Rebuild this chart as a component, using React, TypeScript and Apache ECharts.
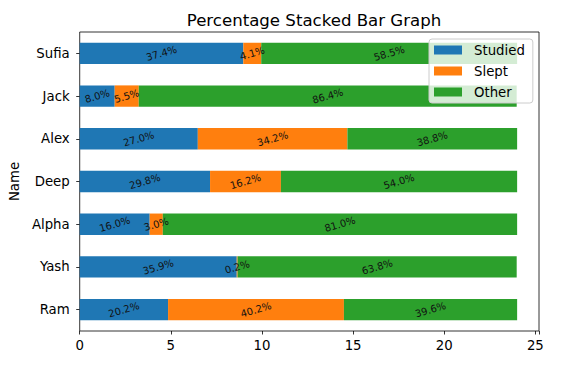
import React, { useEffect, useRef } from "react";
import * as echarts from "echarts";

const names = ["Ram", "Yash", "Alpha", "Deep", "Alex", "Jack", "Sufia"];
const studiedPct = [20.2, 35.9, 16.0, 29.8, 27.0, 8.0, 37.4];
const sleptPct = [40.2, 0.2, 3.0, 16.2, 34.2, 5.5, 4.1];
const otherPct = [39.6, 63.8, 81.0, 54.0, 38.8, 86.4, 58.5];
const HOURS_PER_DAY = 24;
const xTicks = [0, 5, 10, 15, 20, 25];

const FONT = "DejaVu Sans";

function makeSeries(name: string, pct: number[], color: string) {
  return {
    name,
    type: "bar",
    stack: "total",
    barWidth: "50%",
    itemStyle: { color },
    data: pct.map((p) => (p / 100) * HOURS_PER_DAY),
    label: {
      show: true,
      position: "inside",
      rotate: 16,
      fontFamily: FONT,
      fontSize: 10,
      color: "#111",
      formatter: (params: any) => `${pct[params.dataIndex].toFixed(1)}%`,
    },
    emphasis: { disabled: true },
  };
}

export default function App() {
  const ref = useRef<HTMLDivElement>(null);
  useEffect(() => {
    if (!ref.current) return;
    const chart = echarts.init(ref.current, undefined, { renderer: "svg" });
    chart.setOption({
      animation: false,
      textStyle: { fontFamily: FONT },
      title: {
        text: "Percentage Stacked Bar Graph",
        left: 309,
        textAlign: "center",
        top: 7,
        textStyle: { fontFamily: FONT, fontSize: 16.6, fontWeight: "normal", color: "#000" },
      },
      legend: {
        data: ["Studied", "Slept", "Other"],
        orient: "vertical",
        left: 429,
        top: 39,
        padding: [4, 8, 4, 5],
        itemWidth: 28,
        itemHeight: 9,
        itemGap: 7,
        icon: "rect",
        backgroundColor: "rgba(255,255,255,0.8)",
        borderColor: "#cccccc",
        borderWidth: 1,
        borderRadius: 3,
        textStyle: {
          fontFamily: FONT,
          fontSize: 13.3,
          lineHeight: 14,
          color: "#000",
          padding: [0, 0, 0, 7],
        },
      },
      grid: {
        left: 79,
        right: 23,
        top: 32,
        bottom: 40,
        show: true,
        borderColor: "#000",
        borderWidth: 0.8,
        backgroundColor: "transparent",
      },
      xAxis: {
        type: "value",
        min: 0,
        max: 25.2,
        interval: 5,
        axisLine: { show: false },
        axisTick: { show: true, length: 3.5, lineStyle: { color: "#000", width: 0.8 } },
        splitLine: { show: false },
        axisLabel: {
          fontFamily: FONT,
          fontSize: 13.3,
          color: "#000",
          margin: 8,
          formatter: (v: number) => (xTicks.includes(v) ? String(v) : ""),
        },
      },
      yAxis: {
        type: "category",
        data: names,
        name: "Name",
        nameLocation: "middle",
        nameRotate: 90,
        nameGap: 58,
        nameTextStyle: { fontFamily: FONT, fontSize: 13.3, color: "#000" },
        axisLine: { show: false },
        axisTick: { show: true, alignWithLabel: true, length: 3.5, lineStyle: { color: "#000", width: 0.8 } },
        axisLabel: { fontFamily: FONT, fontSize: 13.3, color: "#000", margin: 10 },
        splitLine: { show: false },
      },
      series: [
        makeSeries("Studied", studiedPct, "#1f77b4"),
        makeSeries("Slept", sleptPct, "#ff7f0e"),
        makeSeries("Other", otherPct, "#2ca02c"),
      ],
    });
    return () => chart.dispose();
  }, []);
  return (
    <div
      ref={ref}
      style={{ position: "fixed", left: 0, top: 0, width: 562, height: 371, background: "#fff" }}
    />
  );
}
